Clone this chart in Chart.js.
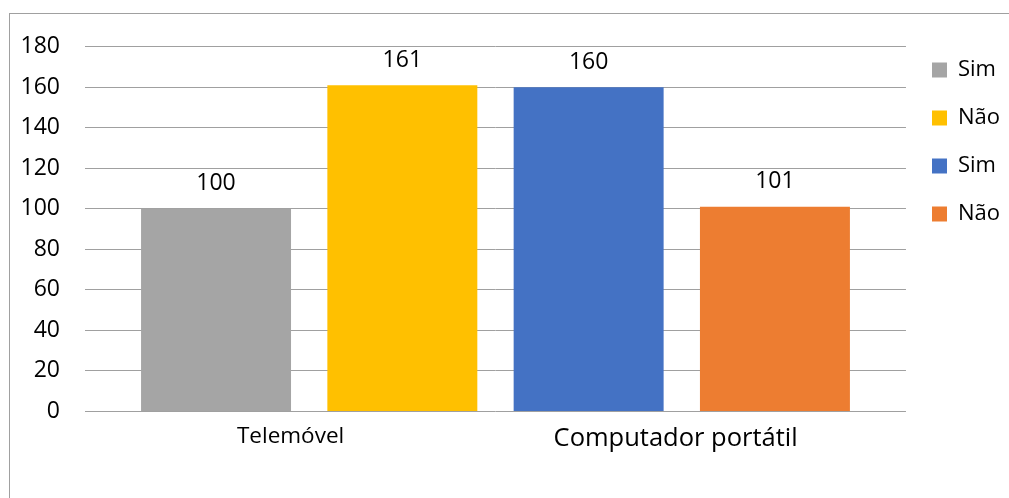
<!DOCTYPE html>
<html lang="pt">
<head>
<meta charset="utf-8">
<title>Telemóvel e computador portátil</title>
<script src="https://cdn.jsdelivr.net/npm/chart.js@4.4.1/dist/chart.umd.min.js"></script>
<style>
  html, body { margin: 0; padding: 0; background: #ffffff; }
  #wrap { position: relative; width: 1009px; height: 498px; overflow: hidden; }
  #frame {
    position: absolute; left: 9px; top: 13px; width: 1100px; height: 600px;
    border-left: 1px solid #a0a0a0; border-top: 1px solid #a0a0a0;
    pointer-events: none;
  }
  canvas { position: absolute; left: 0; top: 0; }
</style>
</head>
<body>
<div id="wrap">
  <canvas id="chart" width="1009" height="498"></canvas>
  <div id="frame"></div>
</div>
<script>
// Categories and the four answer series (one bar each)
const categories = ['Telemóvel', 'Computador portátil'];
const seriesNames = ['Sim', 'Não', 'Sim', 'Não'];
const seriesValues = [100, 161, 160, 101];
const seriesColors = ['#a5a5a5', '#ffc000', '#4472c4', '#ed7d31'];
const yTicks = [0, 20, 40, 60, 80, 100, 120, 140, 160, 180];

const FONT = "'Open Sans', 'Noto Sans', sans-serif";
const TEXT = '#000000';

const datasets = seriesNames.map((name, i) => ({
  label: name,
  data: [{ x: i, y: seriesValues[i] }],
  backgroundColor: seriesColors[i],
  borderWidth: 0,
  grouped: false,
  categoryPercentage: 1,
  barPercentage: 0.805
}));

// Value labels drawn above each bar
const valueLabels = {
  id: 'valueLabels',
  afterDatasetsDraw(chart) {
    const ctx = chart.ctx;
    ctx.save();
    ctx.font = '23px ' + FONT;
    ctx.fillStyle = TEXT;
    ctx.textAlign = 'center';
    ctx.textBaseline = 'alphabetic';
    chart.data.datasets.forEach((ds, di) => {
      const meta = chart.getDatasetMeta(di);
      meta.data.forEach((bar, j) => {
        ctx.fillText(String(ds.data[j].y), bar.x, bar.y - 18.5);
      });
    });
    ctx.restore();
  }
};

new Chart(document.getElementById('chart'), {
  type: 'bar',
  data: { datasets },
  plugins: [valueLabels],
  options: {
    responsive: false,
    devicePixelRatio: 1,
    animation: false,
    layout: { padding: { top: 33, right: -1, bottom: 32, left: 0 } },
    plugins: {
      tooltip: { enabled: false },
      legend: {
        position: 'right',
        align: 'start',
        labels: {
          boxWidth: 15,
          boxHeight: 15,
          padding: 26,
          color: TEXT,
          font: { family: FONT, size: 22 }
        }
      }
    },
    scales: {
      x: {
        type: 'linear',
        offset: false,
        min: -0.7034,
        max: 3.7034,
        grid: { display: false, drawTicks: false },
        border: { display: false },
        afterBuildTicks(axis) {
          axis.ticks = [{ value: 0.4 }, { value: 2.467 }];
        },
        ticks: {
          padding: 12,
          color: TEXT,
          autoSkip: false,
          maxRotation: 0,
          font: (c) => ({ family: FONT, size: c.index === 1 ? 25.5 : 22.5 }),
          callback: (v, i) => categories[i]
        }
      },
      y: {
        min: 0,
        max: 180,
        afterFit(axis) {
          axis.width = 85;
          axis.paddingTop = 46.7;
        },
        afterBuildTicks(axis) {
          axis.ticks = yTicks.map(v => ({ value: v }));
        },
        grid: { color: '#a0a0a0', lineWidth: 1, drawTicks: false },
        border: { display: false },
        ticks: {
          padding: 25,
          color: TEXT,
          font: { family: FONT, size: 23 }
        }
      }
    }
  }
});
</script>
</body>
</html>
